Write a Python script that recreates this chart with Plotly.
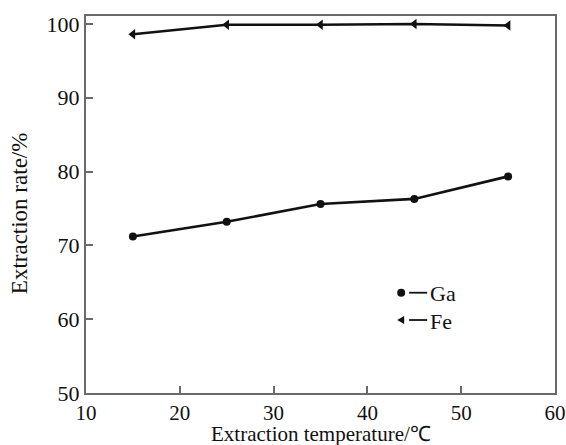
import plotly.graph_objects as go

# Extraction rate of Ga and Fe versus extraction temperature
temperature = [15, 25, 35, 45, 55]
ga_rate = [71.2, 73.2, 75.6, 76.3, 79.35]
fe_rate = [98.6, 99.9, 99.9, 100.0, 99.8]

x_ticks = [10, 20, 30, 40, 50, 60]
y_ticks = [50, 60, 70, 80, 90, 100]

x_title = "Extraction temperature/\u2103"
y_title = "Extraction rate/%"

FONT = "Liberation Serif"
INK = "#111111"
FRAME = "#6a6a6a"

fig = go.Figure()

fig.add_trace(go.Scatter(
    x=temperature, y=ga_rate, name="Ga", mode="lines+markers",
    line=dict(color=INK, width=2.6),
    marker=dict(symbol="circle", size=8, color=INK),
    showlegend=False, cliponaxis=False,
))
fig.add_trace(go.Scatter(
    x=temperature, y=fe_rate, name="Fe", mode="lines+markers",
    line=dict(color=INK, width=2.6),
    marker=dict(symbol="triangle-left", size=9, color=INK),
    showlegend=False, cliponaxis=False,
))

# Hand-drawn key: marker, short dash, series name
key_x = 0.672
key_rows = [("Ga", 0.266, "circle"), ("Fe", 0.1936, "triangle")]
shapes = []
annotations = []
for label, ky, kind in key_rows:
    if kind == "circle":
        shapes.append(dict(
            type="circle", xref="paper", yref="paper",
            xsizemode="pixel", ysizemode="pixel",
            xanchor=key_x, yanchor=ky,
            x0=-4, x1=4, y0=-4, y1=4,
            fillcolor=INK, line=dict(width=0),
        ))
    else:
        shapes.append(dict(
            type="path", xref="paper", yref="paper",
            xsizemode="pixel", ysizemode="pixel",
            xanchor=key_x, yanchor=ky,
            path="M -4,0 L 3,4 L 3,-4 Z",
            fillcolor=INK, line=dict(width=0),
        ))
    shapes.append(dict(
        type="line", xref="paper", yref="paper",
        xsizemode="pixel", ysizemode="pixel",
        xanchor=key_x, yanchor=ky,
        x0=8, x1=26, y0=0, y1=0,
        line=dict(color=INK, width=1.8),
    ))
    annotations.append(dict(
        text=label, xref="paper", yref="paper",
        x=key_x, y=ky, xanchor="left", yanchor="middle",
        xshift=27, yshift=-1, showarrow=False,
        font=dict(family=FONT, size=22, color=INK),
    ))

# Axis titles placed as free text so they can sit low / left in the margins
annotations.append(dict(
    text=x_title, xref="paper", yref="paper",
    x=0.5, y=0, xanchor="center", yanchor="bottom",
    yshift=-55, showarrow=False,
    font=dict(family=FONT, size=21, color=INK),
))
annotations.append(dict(
    text=y_title, xref="paper", yref="paper", textangle=-90,
    x=0, y=0.477, xanchor="center", yanchor="middle",
    xshift=-67, showarrow=False,
    font=dict(family=FONT, size=23, color=INK),
))

fig.update_layout(
    template="none",
    width=566, height=445,
    margin=dict(l=86, r=11, t=16, b=52, autoexpand=False),
    paper_bgcolor="white", plot_bgcolor="white",
    font=dict(family=FONT, size=22, color=INK),
    shapes=shapes, annotations=annotations,
    showlegend=False,
)

fig.update_xaxes(
    range=[10, 60], tickvals=x_ticks, ticktext=[str(v) for v in x_ticks],
    automargin=False,
    showgrid=False, zeroline=False,
    showline=True, linecolor=FRAME, linewidth=2, mirror=True,
    ticks="inside", ticklen=7, tickwidth=1.5, tickcolor=FRAME,
    tickfont=dict(family=FONT, size=21, color=INK),
)
fig.update_yaxes(
    range=[50, 101.08], tickvals=y_ticks, ticktext=[str(v) for v in y_ticks],
    automargin=False,
    showgrid=False, zeroline=False,
    showline=True, linecolor=FRAME, linewidth=2, mirror=True,
    ticks="inside", ticklen=7, tickwidth=1.5, tickcolor=FRAME,
    tickfont=dict(family=FONT, size=22, color=INK),
)

fig.write_html("out.html")
